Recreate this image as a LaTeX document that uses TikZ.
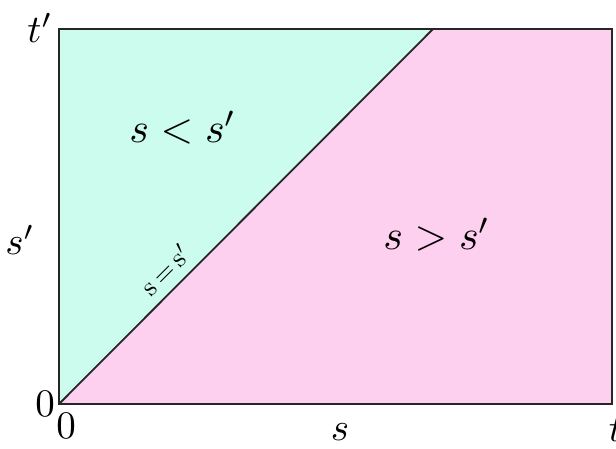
\documentclass[tikz,border=0pt]{standalone}
\usepackage{graphicx}
\usepackage{xcolor}
\definecolor{mint}{RGB}{204,252,238}
\definecolor{pinkish}{RGB}{252,208,238}
\begin{document}
\begin{tikzpicture}[x=1pt,y=-1pt,
  lab/.style={inner sep=0pt},
  small/.style={inner sep=0pt}]
\useasboundingbox (0,0) rectangle (616,449);
\coordinate (O) at (59,404);
\coordinate (TL) at (59,29);
\coordinate (TR) at (612,29);
\coordinate (BR) at (612,404);
\coordinate (D) at (433,29);
\fill[mint] (O) -- (TL) -- (D) -- cycle;
\fill[pinkish] (O) -- (D) -- (TR) -- (BR) -- cycle;
\draw[line width=1.8pt,black!85] (O) -- (TL) -- (TR) -- (BR) -- cycle;
\draw[line width=1.8pt,black!85] (O) -- (D);
\node[lab] (tp) at (40,28) {\scalebox{3.9}{$t'$}};
\node[lab] (sp) at (20,240) {\scalebox{3.9}{$s'$}};
\node[lab] (z1) at (45,404) {\scalebox{3.9}{$0$}};
\node[lab] (z2) at (66,426) {\scalebox{3.9}{$0$}};
\node[lab] (sb) at (340,432) {\scalebox{3.9}{$s$}};
\node[lab] (tb) at (616,430) {\scalebox{3.9}{$t$}};
\node[lab] (lt) at (183,128) {\scalebox{4.2}{$s<s'$}};
\node[lab] (gt) at (437,235) {\scalebox{4.2}{$s>s'$}};
\node[small,rotate=45,anchor=south] (eq) at (173,277) {\scalebox{2.7}{s\,=\,s$'$}};
\end{tikzpicture}
\end{document}
